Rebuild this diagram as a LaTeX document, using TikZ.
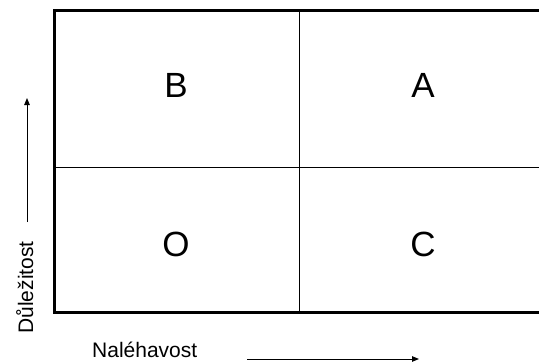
\documentclass[tikz,border=0pt]{standalone}
\usepackage{fontspec}
\setmainfont{Liberation Sans}
\usetikzlibrary{arrows.meta}
\begin{document}
\begin{tikzpicture}[x=1pt,y=-1pt,
  quad/.style={font=\fontsize{35}{40}\selectfont, anchor=base, inner sep=0pt},
  axislabel/.style={font=\fontsize{21}{24}\selectfont, inner sep=0pt},
  axisarrow/.style={line width=0.9pt, -{Triangle[length=7pt,width=5.5pt]}},
  outer/.style={line width=3pt},
  inner/.style={line width=1.2pt}]
\useasboundingbox (0,0) rectangle (539,364);
\begin{scope}
\clip (0,0) rectangle (539,364);
\draw[inner] (299.5,10) -- (299.5,312);
\draw[inner] (54,167.5) -- (560,167.5);
\draw[outer] (560,10) -- (54,10) -- (54,312) -- (560,312);
\end{scope}
\node[quad] (b) at (176,97) {B};
\node[quad] (a) at (423,97) {A};
\node[quad] (o) at (176,256) {O};
\node[quad] (c) at (423,256) {C};
\node[axislabel, rotate=90, anchor=base] (dul) at (33,287.5) {Důležitost};
\node[axislabel, anchor=base west] (nal) at (92,357) {Naléhavost};
\coordinate (v0) at (27,222);
\coordinate (v1) at (27,98);
\coordinate (h0) at (247,359);
\coordinate (h1) at (419,359);
\draw[axisarrow] (v0) -- (v1);
\draw[axisarrow] (h0) -- (h1);
\end{tikzpicture}
\end{document}
